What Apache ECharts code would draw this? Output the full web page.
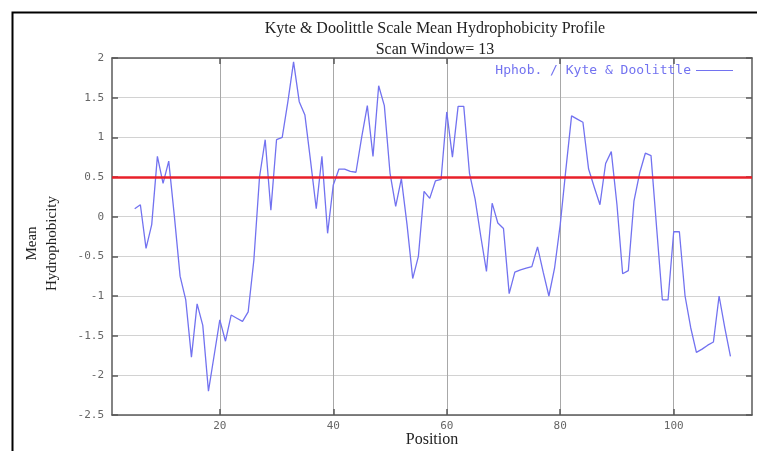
<!DOCTYPE html>
<html>
<head>
<meta charset="utf-8">
<script src="https://cdn.jsdelivr.net/npm/echarts@6/dist/echarts.min.js"></script>
<style>html,body{margin:0;padding:0;background:#fff;}#chart{width:757px;height:451px;}</style>
</head>
<body>
<div id="chart"></div>
<script>
const positions = [5,6,7,8,9,10,11,12,13,14,15,16,17,18,19,20,21,22,23,24,25,26,27,28,29,30,31,32,33,34,35,36,37,38,39,40,41,42,43,44,45,46,47,48,49,50,51,52,53,54,55,56,57,58,59,60,61,62,63,64,65,66,67,68,69,70,71,72,73,74,75,76,77,78,79,80,81,82,83,84,85,86,87,88,89,90,91,92,93,94,95,96,97,98,99,100,101,102,103,104,105,106,107,108,109,110];
const hydrophobicity = [0.10,0.15,-0.40,-0.10,0.76,0.42,0.70,0.00,-0.75,-1.05,-1.77,-1.10,-1.37,-2.20,-1.75,-1.30,-1.57,-1.24,-1.28,-1.32,-1.20,-0.55,0.50,0.97,0.08,0.97,1.00,1.45,1.95,1.45,1.28,0.70,0.10,0.76,-0.21,0.40,0.60,0.60,0.57,0.56,1.00,1.40,0.76,1.65,1.40,0.55,0.13,0.48,-0.10,-0.78,-0.50,0.32,0.23,0.45,0.47,1.32,0.75,1.39,1.39,0.55,0.22,-0.25,-0.69,0.17,-0.08,-0.15,-0.97,-0.70,-0.67,-0.65,-0.63,-0.38,-0.70,-1.00,-0.65,-0.10,0.60,1.27,1.23,1.19,0.60,0.37,0.15,0.67,0.82,0.15,-0.72,-0.68,0.20,0.55,0.80,0.77,-0.15,-1.05,-1.05,-0.19,-0.19,-1.00,-1.40,-1.71,-1.67,-1.62,-1.58,-1.00,-1.40,-1.76];
const xTicks = [20, 40, 60, 80, 100];
const threshold = 0.5;
const seriesName = 'Hphob. / Kyte & Doolittle';

const chart = echarts.init(document.getElementById('chart'), null, {renderer: 'canvas'});
const mono = 'DejaVu Sans Mono';
const serif = 'Liberation Serif';
const frameColor = '#5a5a5a';
const lineColor = '#7272f0';

const xBase = {
  type: 'value', min: 1, max: 113.8,
  axisLine: {show: true, onZero: false, lineStyle: {color: frameColor, width: 1.5}},
  axisTick: {show: true, inside: true, length: 6, customValues: xTicks, lineStyle: {color: frameColor, width: 1.5}},
};

chart.setOption({
  animation: false,
  backgroundColor: '#fff',
  title: {
    text: 'Kyte & Doolittle Scale Mean Hydrophobicity Profile\nScan Window= 13',
    left: 430, top: 13, textAlign: 'center',
    textStyle: {fontFamily: serif, fontSize: 16, fontWeight: 'normal', color: '#222', lineHeight: 21}
  },
  legend: {
    right: 19, top: 59, align: 'right', itemWidth: 37, itemHeight: 14,
    data: [{name: seriesName, icon: 'path://M0,6 L37,6 L37,7.2 L0,7.2 Z'}],
    textStyle: {fontFamily: mono, fontSize: 13, color: lineColor}
  },
  grid: {left: 112, right: 5, top: 58, bottom: 36, containLabel: false, outerBoundsMode: 'none'},
  xAxis: [
    Object.assign({}, xBase, {
      position: 'bottom',
      name: 'Position', nameLocation: 'middle', nameGap: 17, nameMoveOverlap: false,
      nameTextStyle: {fontFamily: serif, fontSize: 16, color: '#222'},
      axisLabel: {show: true, customValues: xTicks, margin: 6, fontFamily: mono, fontSize: 11, color: '#666'},
      splitLine: {show: true, lineStyle: {color: '#a8a8a8', width: 1}}
    }),
    Object.assign({}, xBase, {
      position: 'top',
      axisLabel: {show: false},
      splitLine: {show: false}
    })
  ],
  yAxis: [
    {
      type: 'value', min: -2.5, max: 2, interval: 0.5, position: 'left',
      name: 'Mean\nHydrophobicity', nameLocation: 'middle', nameGap: 50,
      nameTextStyle: {fontFamily: serif, fontSize: 15, color: '#222', lineHeight: 20, padding: [0, 14, 0, 0]},
      axisLine: {show: true, lineStyle: {color: frameColor, width: 1.5}},
      axisTick: {show: true, inside: true, length: 6, lineStyle: {color: frameColor, width: 1.5}},
      axisLabel: {margin: 8, fontFamily: mono, fontSize: 11, color: '#666'},
      splitLine: {show: true, lineStyle: {color: '#d2d2d2', width: 1}}
    },
    {
      type: 'value', min: -2.5, max: 2, interval: 0.5, position: 'right',
      axisLine: {show: true, lineStyle: {color: frameColor, width: 1.5}},
      axisTick: {show: true, inside: true, length: 6, lineStyle: {color: frameColor, width: 1.5}},
      axisLabel: {show: false},
      splitLine: {show: false}
    }
  ],
  graphic: [{
    type: 'rect', left: 10, top: 10, silent: true, z: 100,
    shape: {x: 0, y: 0, width: 800, height: 500},
    style: {fill: 'none', stroke: '#000', lineWidth: 2}
  }],
  series: [{
    name: seriesName,
    type: 'line',
    xAxisIndex: 0, yAxisIndex: 0,
    data: positions.map((p, i) => [p, hydrophobicity[i]]),
    symbol: 'none',
    lineStyle: {color: lineColor, width: 1.3},
    itemStyle: {color: lineColor},
    markLine: {
      silent: true, symbol: 'none', label: {show: false},
      lineStyle: {color: '#e8202a', width: 2.5, type: 'solid'},
      data: [{yAxis: threshold}]
    }
  }]
});
</script>
</body>
</html>
